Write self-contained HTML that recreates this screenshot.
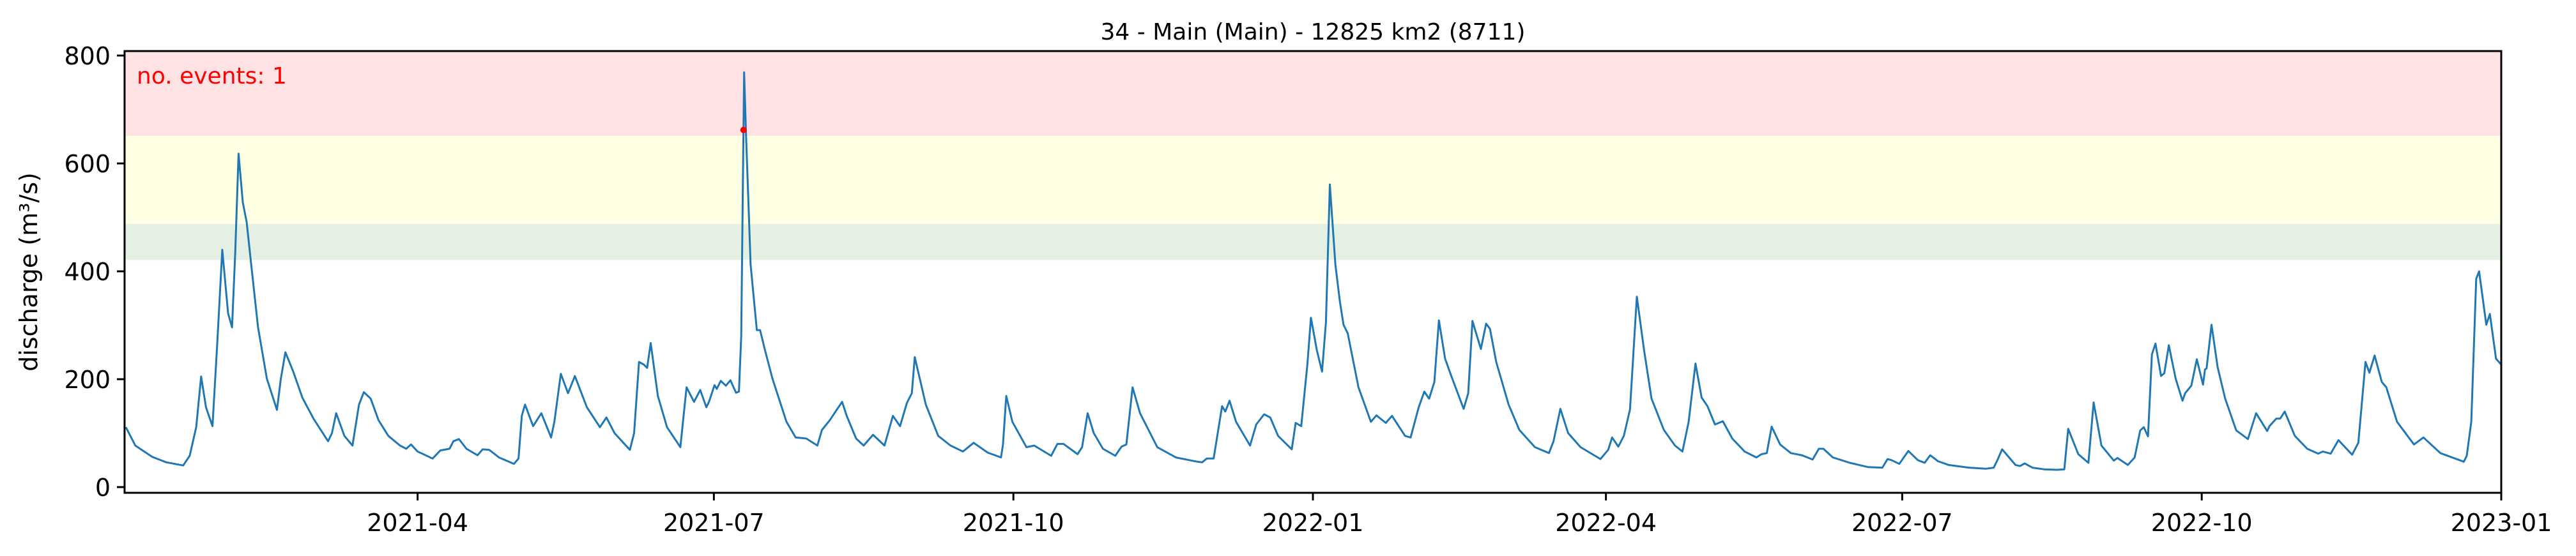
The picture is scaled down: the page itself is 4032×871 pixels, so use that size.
<!DOCTYPE html>
<html><head><meta charset="utf-8"><style>
html,body{margin:0;padding:0;background:#fff;}
svg{display:block;font-family:"DejaVu Sans","Liberation Sans",sans-serif;}
</style></head><body>
<svg id="chart" width="4032" height="871" viewBox="0 0 4032 871" xmlns="http://www.w3.org/2000/svg">
<text x="2055" y="62" font-size="36" text-anchor="middle">34 - Main (Main) - 12825 km2 (8711)</text>
<g id="plot"></g>
<text transform="translate(58,426) rotate(-90)" font-size="38" text-anchor="middle">discharge (m³/s)</text>
</svg>
<script>
// days since 2021-01-01
const days = [0.4,3.3,8.5,12.8,18,20,22,23.5,25,27,28.5,30,31.8,33,34,35,36.3,37.5,39,41,43.7,46.8,48,49.4,51.8,54.6,58,62.5,63.7,65,67.5,70,72,73.5,75.6,78,81,84.6,86.5,88,90,94.6,97,99.8,101,102.7,105,108.4,110,112,115,119.6,121,122,123,125.5,128,131,132,134,136.2,138.3,142,146,148,150.5,155.2,156.5,158,159.5,160.5,161.6,163.8,166.6,170.7,172.6,174.9,176.8,178.7,179.5,181.2,181.9,183.1,184.7,186.1,187.8,188.7,189.4,190.1,190.3,190.9,192.3,194.2,195.2,196.6,199,203.3,206.1,209.4,212.8,214.2,216.6,218.7,220.4,221.8,224.7,227,229.9,233.4,236,238.2,240.3,241.8,242.7,246.1,249.9,253.7,257.5,260.8,265.1,269.2,269.8,270.8,272.7,277,279.4,284.6,286.5,288.4,292.7,294.1,295.8,297.7,300.5,304.3,306.2,307.7,309.6,311.9,317.2,322.9,329.5,331,332.4,334.5,337.1,338.1,339.4,341.4,345.7,347.6,350,351.9,354.3,358.5,359.7,361.4,363.3,364.4,366.2,367.8,369,370.2,371.9,373.3,374.4,375.7,379,382.8,384.5,387.4,389.3,393.3,395,397.5,399.2,400.7,402.3,403.7,405.6,407.5,411.3,412.7,414,416.6,418.2,419.4,421.3,425.1,428.4,433.2,437.5,438.9,441,443.4,447.2,453.3,455.7,456.9,458.8,460.5,462.4,464.5,466.7,469,472.8,476.2,478.5,480.4,482.5,484.4,486.2,488.5,490.9,493.8,497.6,501.2,502.8,504.4,505.9,508.5,511.8,515.2,518.5,520.4,521.8,524.7,529.9,535.6,539.9,541.5,542.7,545.1,547.9,550.8,552.9,554.6,557,560.3,566.5,571.7,574.1,575.1,576.7,580.8,582.2,583.6,586,589.6,593.4,595.8,597,600.1,603.2,604.8,607.2,611,612.1,615.3,617.4,619.1,620.2,621.5,622.7,623.8,625.5,626.5,627.9,630,632.1,632.9,634.8,636.5,638.4,639,639.5,641,642.9,645.2,648.6,652.2,654.7,658.1,658.8,660.9,662.1,663.5,666.6,670.4,673.8,675.2,677.6,680,684.2,686.1,688.3,689.5,691.1,693.3,694.7,698,703.2,706.1,711.3,718.5,719.4,720.8,722.3,723.2,725.4,726.5,728.4,730];
const discharge = [111,77,56,46,40,58,111,205,148,113,270,440,322,296,438,618,528,491,407,296,201,143,201,250,214,166,127,85,100,137,95,77,153,176,164,124,95,77,71,79,66,53,68,71,85,89,71,59,70,69,55,43,53,132,153,113,137,92,121,210,174,206,148,111,129,100,69,100,232,227,221,267,169,111,74,185,158,180,148,158,189,182,197,188,198,175,177,280,662,769,650,412,291,291,256,201,121,92,90,77,106,124,143,158,132,90,77,97,77,132,113,156,174,241,153,95,77,66,82,64,55,79,169,121,74,77,58,80,80,61,74,137,100,71,58,75,79,185,137,74,55,47,46,53,53,150,140,160,121,77,116,135,129,95,70,119,113,227,314,254,214,306,561,412,343,301,285,185,121,133,119,132,95,92,148,177,164,195,309,238,206,145,174,308,256,303,293,232,153,106,74,63,85,145,100,74,52,69,92,75,95,144,353,254,164,106,77,66,121,229,166,150,116,122,90,66,55,61,63,112,79,63,59,51,71,71,55,45,37,36,52,50,43,67,50,45,59,48,41,36,34,36,48,70,41,39,44,36,33,32,33,108,61,45,157,77,49,54,41,55,105,111,94,246,266,206,211,263,201,160,174,188,237,190,218,220,301,222,164,105,89,137,104,113,127,127,140,95,71,62,66,62,87,60,82,232,212,244,195,185,121,79,92,63,47,58,121,386,400,301,321,238,227];
const eventDays = [190.1];
const eventValues = [662];
const bandLow = [421, 488, 651];
const bandHigh = [488, 651, 808.3];
const bandColors = ['#e5f0e4','#ffffe3','#ffe3e4'];
const bandNames = ['band-green','band-yellow','band-red'];
const yTicks = [0,200,400,600,800];
const xTickDays = [90,181,273,365,455,546,638,730];
const xTickLabels = ['2021-04','2021-07','2021-10','2022-01','2022-04','2022-07','2022-10','2023-01'];

const L=195,R=3915,T=80,B=772, D0=0,D1=730, V0=-10.6,V1=808.3;
const xS=d=>L+(d-D0)/(D1-D0)*(R-L);
const yS=v=>B-(v-V0)/(V1-V0)*(B-T);
const NS='http://www.w3.org/2000/svg';
const g=document.getElementById('plot');
function mk(tag,attrs){const e=document.createElementNS(NS,tag);for(const k in attrs)e.setAttribute(k,attrs[k]);g.appendChild(e);return e;}

bandLow.forEach((lo,i)=>{
  const r=mk('rect',{x:L,y:yS(Math.min(bandHigh[i],V1)),width:R-L,height:yS(lo)-yS(Math.min(bandHigh[i],V1)),fill:bandColors[i]});
  
  
});

const ev=mk('text',{x:214,y:131,'font-size':36,fill:'#ff0000'});
ev.textContent='no. events: 1';



let dstr=days.map((d,i)=>(i?'L':'M')+xS(d).toFixed(1)+','+yS(discharge[i]).toFixed(1)).join(' ');
const line=mk('path',{d:dstr,fill:'none',stroke:'#1f77b4','stroke-width':3,'stroke-linejoin':'round'});



eventDays.forEach((d,i)=>{
  const c=mk('circle',{cx:xS(d),cy:yS(eventValues[i]),r:5,fill:'#ff0000'});
  
  
});

const frame=mk('rect',{x:L,y:T,width:R-L,height:B-T,fill:'none',stroke:'#000','stroke-width':3});



yTicks.forEach(v=>{
  const y=yS(v);
  const t=mk('line',{x1:L-12,x2:L,y1:y,y2:y,stroke:'#000','stroke-width':3});
  
  
  const tx=mk('text',{x:L-22,y:y+14,'font-size':38,'text-anchor':'end'});
  tx.textContent=v;
  
  
});
xTickDays.forEach((d,i)=>{
  const x=xS(d);
  const t=mk('line',{x1:x,x2:x,y1:B,y2:B+12,stroke:'#000','stroke-width':3});
  
  
  const tx=mk('text',{x:x,y:832,'font-size':38,'text-anchor':'middle'});
  tx.textContent=xTickLabels[i];
  
  
});
</script>
</body></html>
